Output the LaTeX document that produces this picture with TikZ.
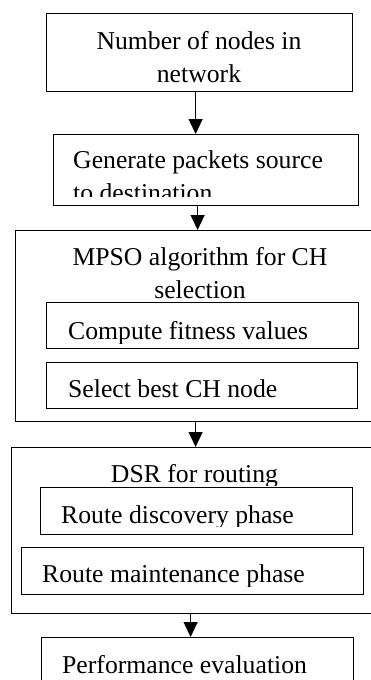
\documentclass[tikz,border=0pt]{standalone}
\usepackage{fontspec}
\setmainfont{Liberation Serif}
\usepackage{tikz}
\usetikzlibrary{arrows.meta,positioning}
\tikzset{box node/.style={rectangle,draw,line width=1.2pt,inner sep=0pt,anchor=north west},
         text node/.style={rectangle,draw=none,fill=none,inner sep=0pt,font=\fontsize{25.7}{33}\selectfont},
         flow arrow/.style={line width=1.2pt,-{Triangle[width=14pt,length=15pt]}},
}

\begin{document}
\begin{tikzpicture}[x=1pt,y=-1pt]
\useasboundingbox (0,0) rectangle (371,680);
\clip (0,0) rectangle (371,680);
% \draw[help lines,step=10] (0,0) grid (371,680);
\node[box node,minimum width=306pt,minimum height=78pt] (1) at (46,13) {};
\node[box node,minimum width=305pt,minimum height=71pt] (2) at (53,134) {};
\node[box node,minimum width=370pt,minimum height=191pt] (3) at (15,230) {};
\node[box node,minimum width=312pt,minimum height=46pt] (3a) at (46,302) {};
\node[box node,minimum width=311pt,minimum height=46pt] (3b) at (46,362) {};
\node[box node,minimum width=367pt,minimum height=166pt] (4) at (11,447) {};
\node[box node,minimum width=312pt,minimum height=47pt] (4a) at (40,487) {};
\node[box node,minimum width=342pt,minimum height=47pt] (4b) at (21,547) {};
\node[box node,minimum width=312pt,minimum height=63pt] (5) at (41,637) {};

% two-line texts sit on the baseline of their last line
\node[text node,align=center,anchor=base] (t1) at (199,82) {Number of nodes in\\network};
\begin{scope}
\clip (2.north west) rectangle ([yshift=10pt]2.south east);
\node[text node,align=left,anchor=base west] (t2) at (73,201) {Generate packets source\\to destination};
\end{scope}
\node[text node,align=center,anchor=base] (t3) at (200,298) {MPSO algorithm for CH\\selection};
\begin{scope}
\clip (3a.north west) rectangle ([yshift=6pt]3a.south east);
\node[text node,anchor=base west] (t3a) at (68,339) {Compute fitness values};
\end{scope}
\node[text node,anchor=base west] (t3b) at (68,397) {Select best CH node};
\begin{scope}
\clip (4.north west) rectangle ([yshift=2pt]4a.north east);
\node[text node,anchor=base] (t4) at (194.5,482) {DSR for routing};
\end{scope}
\begin{scope}
\clip (4a.north west) rectangle ([yshift=9pt]4a.south east);
\node[text node,anchor=base west] (t4a) at (61,523) {Route discovery phase};
\end{scope}
\begin{scope}
\clip (4b.north west) rectangle ([yshift=9pt]4b.south east);
\node[text node,anchor=base west] (t4b) at (42,582) {Route maintenance phase};
\end{scope}
\node[text node,anchor=base west] (t5) at (62,673) {Performance evaluation};

\draw[flow arrow] ([xshift=-4pt]1.south) -- ([xshift=-4pt]1.south |- 2.north);
\draw[flow arrow] ([xshift=-8.5pt]2.south) -- ([xshift=-8.5pt]2.south |- 3.north);
\draw[flow arrow] ([xshift=-5pt]3.south) -- ([xshift=-5pt]3.south |- 4.north);
\draw[flow arrow] ([xshift=-4.5pt]4.south) -- ([xshift=-4.5pt]4.south |- 5.north);
\end{tikzpicture}
\end{document}
